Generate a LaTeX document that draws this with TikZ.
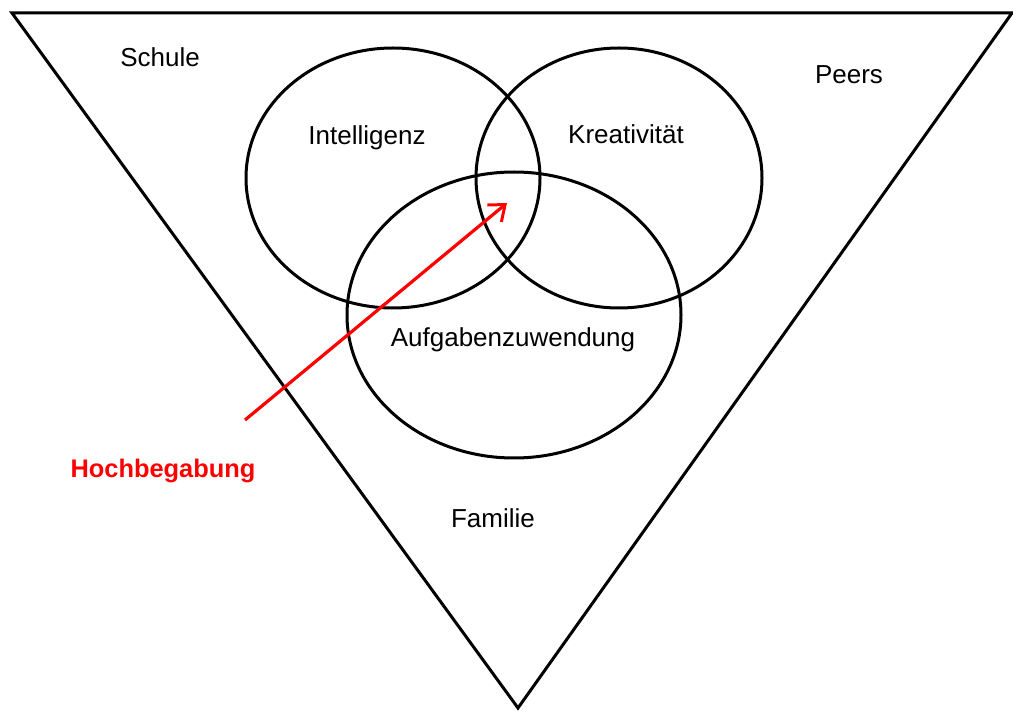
\documentclass[tikz,border=0pt]{standalone}
\usepackage{fontspec}
\setmainfont{Liberation Sans}
\usetikzlibrary{arrows.meta}

\begin{document}
\begin{tikzpicture}[x=0.5pt,y=-0.5pt,
  every node/.style={font=\fontsize{13}{15}\selectfont,inner sep=0pt},
  ring/.style={line width=1.5pt,draw=black},
  hb/.style={text=red,font=\fontsize{12.7}{15}\selectfont\bfseries},
  e/.style={-{Straight Barb[length=7pt,width=11pt,line width=1.5pt]},line width=1.6pt,draw=red}]
\useasboundingbox (0,0) rectangle (1013,711);
% umfeld
\coordinate (TriL) at (12,13);
\coordinate (TriR) at (1012,13);
\coordinate (TriB) at (518,708);
\draw[ring,line join=miter] (TriL) -- (TriR) -- (TriB) -- cycle;
% faktoren
\draw[ring] (393,178) ellipse [x radius=147,y radius=130];
\draw[ring] (619,178) ellipse [x radius=143,y radius=130];
\draw[ring] (514,315) ellipse [x radius=167,y radius=143];
\node (Schule) at (160,57) {Schule};
\node (Peers) at (849,75) {Peers};
\node (Familie) at (493,518) {Familie};
\node (Intelligenz) at (367,138) {Intelligenz};
\node (Kreativitaet) at (626,134) {Kreativität};
\node (Aufgaben) at (513,340) {Aufgabenzuwendung};
\node[hb] (Hochbegabung) at (163,471) {Hochbegabung};
\coordinate (ArrStart) at (245,420);
\coordinate (ArrEnd) at (507,203);
\draw[e] (ArrStart) -- (ArrEnd);
\end{tikzpicture}
\end{document}
